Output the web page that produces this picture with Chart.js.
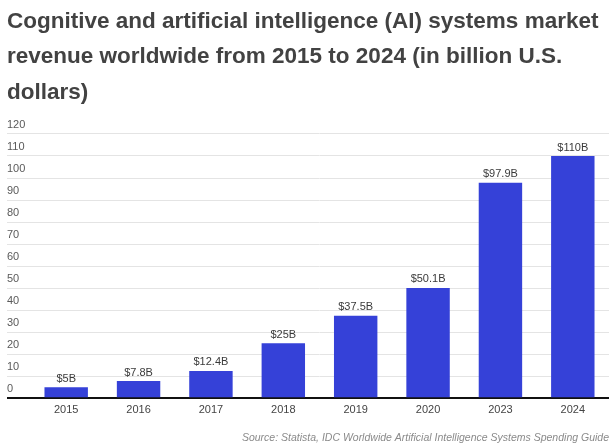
<!DOCTYPE html>
<html>
<head>
<meta charset="utf-8">
<script src="https://cdn.jsdelivr.net/npm/chart.js@4.4.1/dist/chart.umd.min.js"></script>
<style>
  html, body { margin: 0; padding: 0; background: #fff; }
  #wrap { width: 609px; height: 444px; }
</style>
</head>
<body>
<div id="wrap"><canvas id="grafico" width="609" height="444"></canvas></div>
<script>
// data
var anos = ['2015', '2016', '2017', '2018', '2019', '2020', '2023', '2024'];
var receita = [5, 7.8, 12.4, 25, 37.5, 50.1, 97.9, 110];
var rotulos = ['$5B', '$7.8B', '$12.4B', '$25B', '$37.5B', '$50.1B', '$97.9B', '$110B'];

var titulo = [
  'Cognitive and artificial intelligence (AI) systems market',
  'revenue worldwide from 2015 to 2024 (in billion U.S.',
  'dollars)'
];
var fonte = 'Source: Statista, IDC Worldwide Artificial Intelligence Systems Spending Guide';

// little plugin to write the values above the bars
var valoresNasBarras = {
  id: 'valoresNasBarras',
  afterDatasetsDraw: function(chart) {
    var ctx = chart.ctx;
    var meta = chart.getDatasetMeta(0);
    ctx.save();
    ctx.font = '11px "Liberation Sans", Arial, sans-serif';
    ctx.fillStyle = '#3a3a3a';
    ctx.textAlign = 'center';
    ctx.textBaseline = 'bottom';
    meta.data.forEach(function(bar, i) {
      ctx.fillText(rotulos[i], bar.x, bar.y - 3);
    });
    ctx.restore();
  }
};

var ctx = document.getElementById('grafico').getContext('2d');

var chart = new Chart(ctx, {
  type: 'bar',
  data: {
    labels: anos,
    datasets: [{
      data: receita,
      backgroundColor: '#3541d8',
      categoryPercentage: 1,
      barPercentage: 0.6
    }]
  },
  options: {
    responsive: false,
    animation: false,
    layout: { padding: { left: 7, right: 0, top: 4, bottom: 0 } },
    plugins: {
      legend: { display: false },
      tooltip: { enabled: false },
      title: {
        display: true,
        text: titulo,
        align: 'start',
        color: '#424242',
        font: { family: '"Liberation Sans", Arial, sans-serif', size: 22.5, weight: 'bold', lineHeight: 1.57 },
        padding: { top: 0, bottom: 24 }
      },
      subtitle: {
        display: true,
        position: 'bottom',
        align: 'end',
        text: fonte,
        color: '#8a8a8a',
        font: { family: '"Liberation Sans", Arial, sans-serif', size: 10.5, style: 'italic' },
        padding: { top: 10, bottom: 0 }
      }
    },
    scales: {
      x: {
        grid: { display: false, drawTicks: false },
        border: { display: false },
        ticks: {
          color: '#444',
          padding: 5,
          font: { family: '"Liberation Sans", Arial, sans-serif', size: 11 }
        }
      },
      y: {
        min: 0,
        max: 120,
        afterFit: function(s) { s.width = 23; },
        grid: {
          tickLength: 23,
          color: function(c) { return c.tick && c.tick.value === 0 ? '#111' : '#e4e4e4'; },
          lineWidth: function(c) { return c.tick && c.tick.value === 0 ? 2 : 1; }
        },
        border: { display: false },
        ticks: {
          stepSize: 10,
          crossAlign: 'far',
          labelOffset: -9,
          color: '#5a5a5a',
          font: { family: '"Liberation Sans", Arial, sans-serif', size: 11 }
        }
      }
    }
  },
  plugins: [valoresNasBarras]
});
</script>
</body>
</html>
